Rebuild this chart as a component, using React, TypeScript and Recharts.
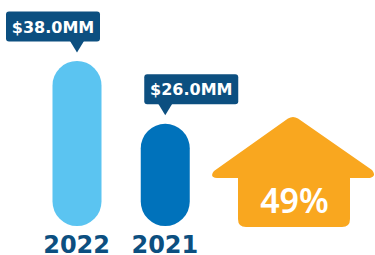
import React from "react";
import { BarChart, Bar, XAxis, YAxis, Cell, LabelList } from "recharts";

const years = ["2022", "2021"];
const values = [38.0, 26.0];
const valueLabels = ["$38.0MM", "$26.0MM"];
const barColors = ["#5BC4F1", "#0072BB"];
const changeLabel = "49%";

const data = years.map((y, i) => ({ year: y, value: values[i], label: valueLabels[i] }));

const NAVY = "#0C4F80";
const ORANGE = "#F9A71F";
const boxShift = [-24, 26];

const Callout = (props: any) => {
  const { x, y, width, value } = props;
  const idx = data.findIndex((d) => d.value === value);
  const cx = x + width / 2;
  const tip = y - 8.5;
  const bh = 30;
  const bw = 94;
  const bottom = tip - 11;
  const bx = cx + boxShift[idx] - bw / 2;
  return (
    <g>
      <rect x={bx} y={bottom - bh} width={bw} height={bh} rx={3} fill={NAVY} />
      <path d={`M${cx - 7},${bottom - 0.5} L${cx + 7},${bottom - 0.5} L${cx},${tip} Z`} fill={NAVY} />
      <text
        x={bx + bw / 2}
        y={bottom - bh / 2 + 6}
        textAnchor="middle"
        fill="#fff"
        fontFamily="'DejaVu Sans', sans-serif"
        fontWeight={700}
        fontSize={16}
      >
        {data[idx].label}
      </text>
    </g>
  );
};

const YearTick = (props: any) => {
  const { x, payload } = props;
  return (
    <text
      x={x}
      y={253}
      textAnchor="middle"
      fill={NAVY}
      fontFamily="'DejaVu Sans', sans-serif"
      fontWeight={700}
      fontSize={24}
    >
      {payload.value}
    </text>
  );
};

export default function App() {
  return (
    <div style={{ position: "absolute", left: 0, top: 0, width: 375, height: 255, background: "#fff" }}>
      <BarChart
        width={375}
        height={255}
        data={data}
        margin={{ top: 61, right: 166, bottom: 0, left: 32.5 }}
        barCategoryGap={0}
      >
        <YAxis hide domain={[6.5, 38]} allowDataOverflow />
        <XAxis
          dataKey="year"
          axisLine={false}
          tickLine={false}
          height={29}
          tick={<YearTick />}
          interval={0}
        />
        <Bar dataKey="value" barSize={49} radius={[24.5, 24.5, 24.5, 24.5]} isAnimationActive={false}>
          {data.map((d, i) => (
            <Cell key={d.year} fill={barColors[i]} />
          ))}
          <LabelList dataKey="value" content={<Callout />} />
        </Bar>
      </BarChart>
      <svg
        width={375}
        height={255}
        style={{ position: "absolute", left: 0, top: 0, pointerEvents: "none" }}
      >
        <path
          d="M288,118.5 Q293,115.5 298,118.5 L372,170 Q377,176 370,178 L350,178 L350,219 Q350,227 342,227 L246,227 Q238,227 238,219 L238,178 L217,178 Q209,177 214,171 Z"
          fill={ORANGE}
        />
        <text
          x={294.5}
          y={213}
          textAnchor="middle"
          fill="#fff"
          fontFamily="'Noto Sans', sans-serif"
          fontWeight={600}
          fontSize={34}
        >
          {changeLabel}
        </text>
      </svg>
    </div>
  );
}
